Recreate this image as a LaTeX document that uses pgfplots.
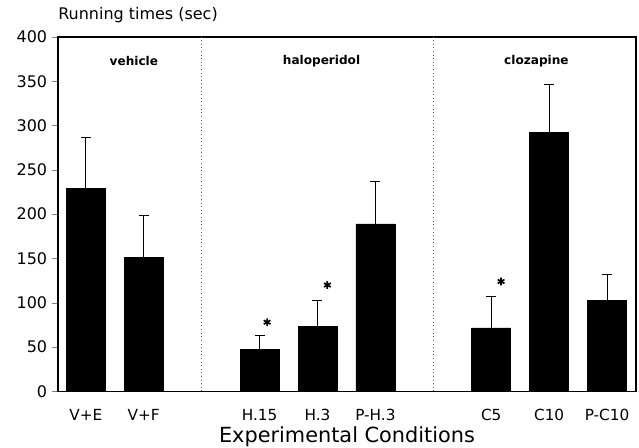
\documentclass[border=0pt]{standalone}
\usepackage{fontspec}
\setmainfont{DejaVu Sans}
\usepackage{pgfplots}
\pgfplotsset{compat=1.18}

% running times per condition: x slot, mean, SEM
\pgfplotstableread{
x  y    e
0  229  58
1  151  47
3  47   15.5
4  73   30
5  189  47.5
7  71.5 35
8  292  54.5
9  103  29
}\runtimes

\begin{document}
\begin{tikzpicture}
\useasboundingbox (-41.76pt,-40.32pt) rectangle (418.16pt,281.64pt);
\begin{axis}[
  at={(0,0)}, anchor=south west,
  scale only axis,
  width=416pt, height=255pt,
  xmin=-0.48, xmax=9.5, ymin=0, ymax=400,
  ytick={0,50,...,400},
  ytick pos=left,
  tick align=outside,
  major tick length=4.3pt,
  xtick={0,1,3,4,5,7,8,9},
  xticklabels={V+E,V+F,H.15,H.3,P-H.3,C5,C10,P-C10},
  x tick style={draw=none},
  /pgf/number format/assume math mode=true,
  yticklabel style={font=\fontsize{11.5}{13}\selectfont},
  xticklabel style={anchor=base, yshift=-16.6pt, font=\fontsize{11}{13}\selectfont},
  axis line style={line width=0.8pt},
  title={Running times (sec)},
  title style={at={(0,1)}, anchor=base west, yshift=6.5pt, inner sep=0pt,
               font=\fontsize{11.5}{13}\selectfont},
  xlabel={Experimental Conditions},
  xlabel style={at={(0.5,0)}, anchor=base, yshift=-37.2pt, inner sep=0pt,
                font=\fontsize{15}{18}\selectfont},
]

% group separators
\addplot[black!60, dotted, line width=0.6pt] coordinates {(2,0) (2,400)};
\addplot[black!60, dotted, line width=0.6pt] coordinates {(6,0) (6,400)};

\addplot[ybar, bar width=28pt, fill=black, draw=black,
  error bars/.cd, y dir=plus, y explicit,
  error bar style={line width=0.7pt},
  error mark options={rotate=90, mark size=3.6pt, line width=0.7pt}]
  table[x=x, y=y, y error=e] {\runtimes};

% significance marks
\addplot[only marks, mark=asterisk, mark size=2.8pt, line width=1.2pt]
  coordinates {(3.13,78) (4.17,120) (7.17,124)};

\node[font=\bfseries\fontsize{8.7}{10}\selectfont] at (axis cs:0.83,373) {vehicle};
\node[font=\bfseries\fontsize{8.7}{10}\selectfont] at (axis cs:4.07,373) {haloperidol};
\node[font=\bfseries\fontsize{8.7}{10}\selectfont] at (axis cs:7.78,373) {clozapine};
\end{axis}
\end{tikzpicture}
\end{document}
